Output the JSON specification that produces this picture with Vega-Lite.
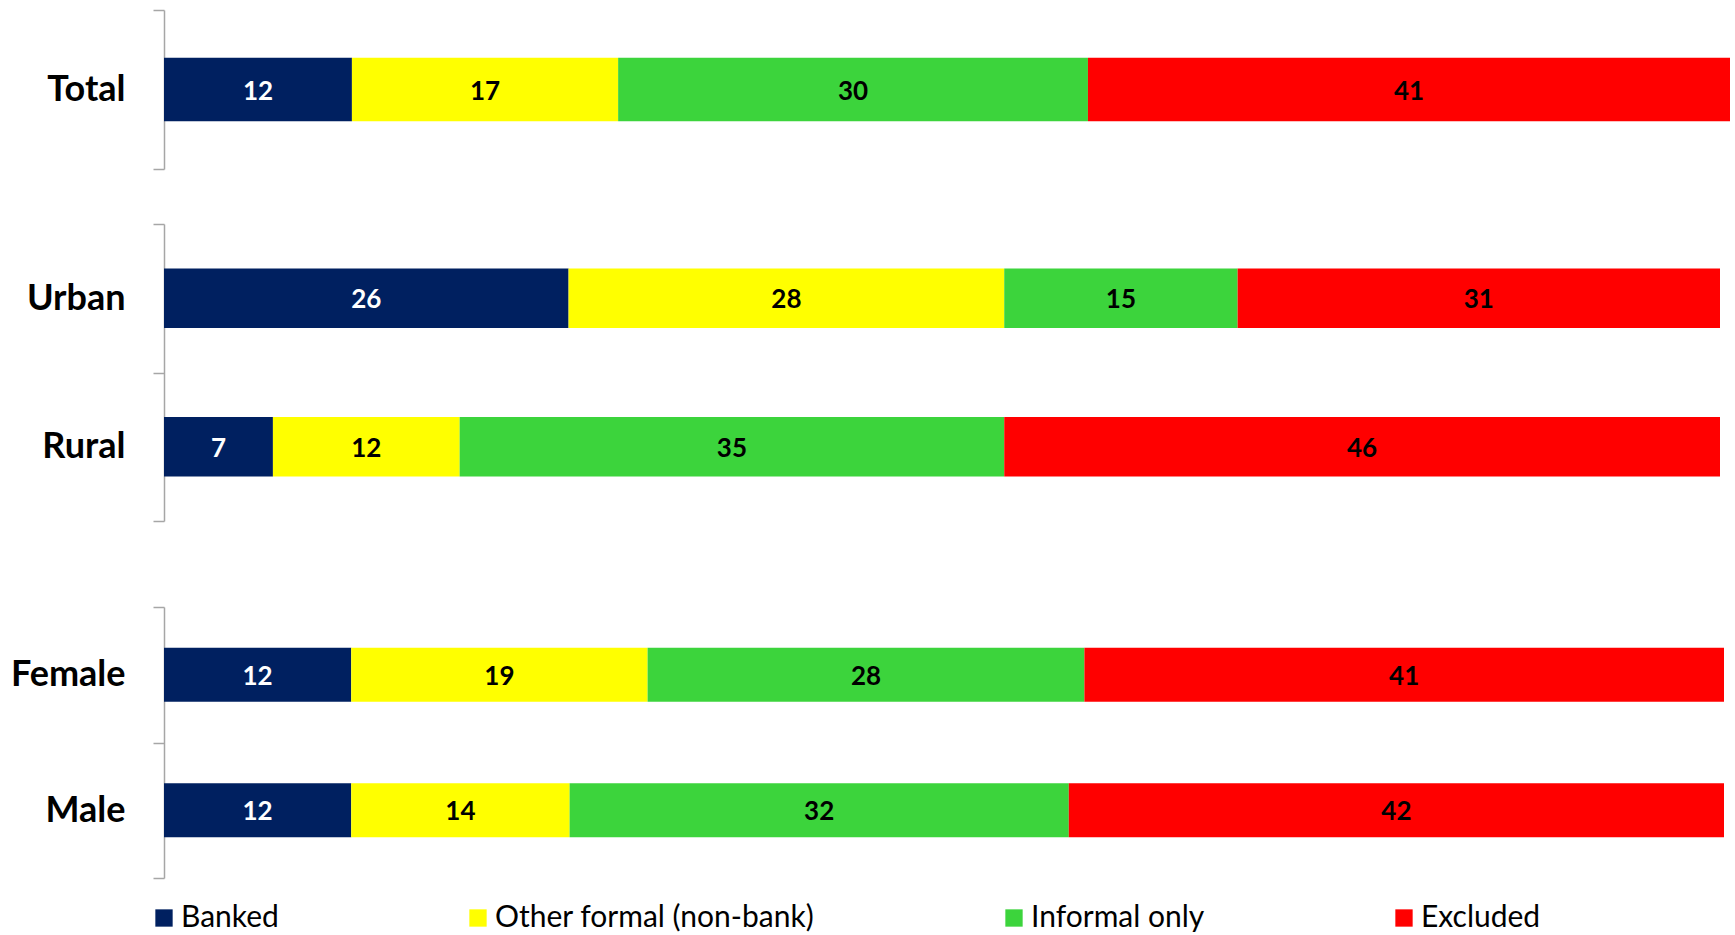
{
  "$schema": "https://vega.github.io/schema/vega-lite/v6.json",
  "background": "white",
  "padding": {"left": 0, "top": -8, "right": 0, "bottom": 0},
  "config": {
    "view": {"stroke": null},
    "font": "Lato",
    "axisY": {
      "title": null,
      "domainColor": "#a6a6a6",
      "domainWidth": 1.5,
      "tickColor": "#a6a6a6",
      "tickWidth": 1.5,
      "tickSize": 11,
      "tickBand": "extent",
      "labelFont": "Lato",
      "labelFontWeight": "bold",
      "labelFontSize": 36,
      "labelColor": "#000000",
      "labelPadding": 28
    }
  },
  "datasets": {
    "access": [
      {"panel": "all", "segment": "Total", "category": "Banked", "rank": 1, "share": 12},
      {"panel": "all", "segment": "Total", "category": "Other formal (non-bank)", "rank": 2, "share": 17},
      {"panel": "all", "segment": "Total", "category": "Informal only", "rank": 3, "share": 30},
      {"panel": "all", "segment": "Total", "category": "Excluded", "rank": 4, "share": 41},
      {"panel": "location", "segment": "Urban", "category": "Banked", "rank": 1, "share": 26},
      {"panel": "location", "segment": "Urban", "category": "Other formal (non-bank)", "rank": 2, "share": 28},
      {"panel": "location", "segment": "Urban", "category": "Informal only", "rank": 3, "share": 15},
      {"panel": "location", "segment": "Urban", "category": "Excluded", "rank": 4, "share": 31},
      {"panel": "location", "segment": "Rural", "category": "Banked", "rank": 1, "share": 7},
      {"panel": "location", "segment": "Rural", "category": "Other formal (non-bank)", "rank": 2, "share": 12},
      {"panel": "location", "segment": "Rural", "category": "Informal only", "rank": 3, "share": 35},
      {"panel": "location", "segment": "Rural", "category": "Excluded", "rank": 4, "share": 46},
      {"panel": "gender", "segment": "Female", "category": "Banked", "rank": 1, "share": 12},
      {"panel": "gender", "segment": "Female", "category": "Other formal (non-bank)", "rank": 2, "share": 19},
      {"panel": "gender", "segment": "Female", "category": "Informal only", "rank": 3, "share": 28},
      {"panel": "gender", "segment": "Female", "category": "Excluded", "rank": 4, "share": 41},
      {"panel": "gender", "segment": "Male", "category": "Banked", "rank": 1, "share": 12},
      {"panel": "gender", "segment": "Male", "category": "Other formal (non-bank)", "rank": 2, "share": 14},
      {"panel": "gender", "segment": "Male", "category": "Informal only", "rank": 3, "share": 32},
      {"panel": "gender", "segment": "Male", "category": "Excluded", "rank": 4, "share": 42}
    ]
  },
  "spacing": 67,
  "vconcat": [
    {
      "spacing": 36,
      "vconcat": [
        {
          "width": 1566,
          "height": 159,
          "data": {"name": "access"},
          "transform": [{"filter": "datum.panel === 'all'"}],
          "layer": [
            {
              "mark": {"type": "bar", "height": {"band": 0.4}},
              "encoding": {
                "y": {"field": "segment", "type": "nominal", "sort": ["Total"], "scale": {"paddingInner": 0, "paddingOuter": 0}, "axis": {"minExtent": 164, "maxExtent": 164}},
                "x": {"field": "share", "type": "quantitative", "stack": "zero", "scale": {"domain": [0, 100], "nice": false}, "axis": null},
                "color": {"field": "category", "type": "nominal", "scale": {"domain": ["Banked", "Other formal (non-bank)", "Informal only", "Excluded"], "range": ["#002060", "#FFFF00", "#3CD43C", "#FF0000"]},
                  "legend": {"orient": "none", "legendX": -15, "legendY": 893, "direction": "horizontal", "columns": 4, "gridAlign": "none", "columnPadding": 184, "title": null, "symbolType": "square", "symbolSize": 300, "symbolStrokeWidth": 0, "labelFont": "Lato", "labelFontSize": 30, "labelColor": "#000000", "labelOffset": 2, "labelLimit": 0}},
                "order": {"field": "rank"}
              }
            },
            {
              "mark": {"type": "text", "font": "Lato", "fontWeight": "bold", "fontSize": 26, "dy": 2},
              "encoding": {
                "y": {"field": "segment", "type": "nominal", "sort": ["Total"]},
                "x": {"field": "share", "type": "quantitative", "stack": "zero", "bandPosition": 0.5},
                "detail": {"field": "category"},
                "order": {"field": "rank"},
                "text": {"field": "share", "type": "quantitative"},
                "fill": {"condition": {"test": "datum.category === 'Banked'", "value": "#ffffff"}, "value": "#000000"}
              }
            }
          ]
        },
        {
          "width": 1556,
          "height": 297,
          "data": {"name": "access"},
          "transform": [{"filter": "datum.panel === 'location'"}],
          "layer": [
            {
              "mark": {"type": "bar", "height": {"band": 0.4}},
              "encoding": {
                "y": {"field": "segment", "type": "nominal", "sort": ["Urban", "Rural"], "scale": {"paddingInner": 0, "paddingOuter": 0}, "axis": {"minExtent": 164, "maxExtent": 164}},
                "x": {"field": "share", "type": "quantitative", "stack": "zero", "scale": {"domain": [0, 100], "nice": false}, "axis": null},
                "color": {"field": "category", "type": "nominal"},
                "order": {"field": "rank"}
              }
            },
            {
              "mark": {"type": "text", "font": "Lato", "fontWeight": "bold", "fontSize": 26, "dy": 2},
              "encoding": {
                "y": {"field": "segment", "type": "nominal", "sort": ["Urban", "Rural"]},
                "x": {"field": "share", "type": "quantitative", "stack": "zero", "bandPosition": 0.5},
                "detail": {"field": "category"},
                "order": {"field": "rank"},
                "text": {"field": "share", "type": "quantitative"},
                "fill": {"condition": {"test": "datum.category === 'Banked'", "value": "#ffffff"}, "value": "#000000"}
              }
            }
          ]
        }
      ]
    },
    {
      "width": 1560,
      "height": 271,
      "data": {"name": "access"},
      "transform": [{"filter": "datum.panel === 'gender'"}],
      "layer": [
        {
          "mark": {"type": "bar", "height": {"band": 0.4}},
          "encoding": {
            "y": {"field": "segment", "type": "nominal", "sort": ["Female", "Male"], "scale": {"paddingInner": 0, "paddingOuter": 0}, "axis": {"minExtent": 164, "maxExtent": 164}},
            "x": {"field": "share", "type": "quantitative", "stack": "zero", "scale": {"domain": [0, 100], "nice": false}, "axis": null},
            "color": {"field": "category", "type": "nominal"},
            "order": {"field": "rank"}
          }
        },
        {
          "mark": {"type": "text", "font": "Lato", "fontWeight": "bold", "fontSize": 26, "dy": 2},
          "encoding": {
            "y": {"field": "segment", "type": "nominal", "sort": ["Female", "Male"]},
            "x": {"field": "share", "type": "quantitative", "stack": "zero", "bandPosition": 0.5},
            "detail": {"field": "category"},
            "order": {"field": "rank"},
            "text": {"field": "share", "type": "quantitative"},
            "fill": {"condition": {"test": "datum.category === 'Banked'", "value": "#ffffff"}, "value": "#000000"}
          }
        }
      ]
    }
  ]
}
